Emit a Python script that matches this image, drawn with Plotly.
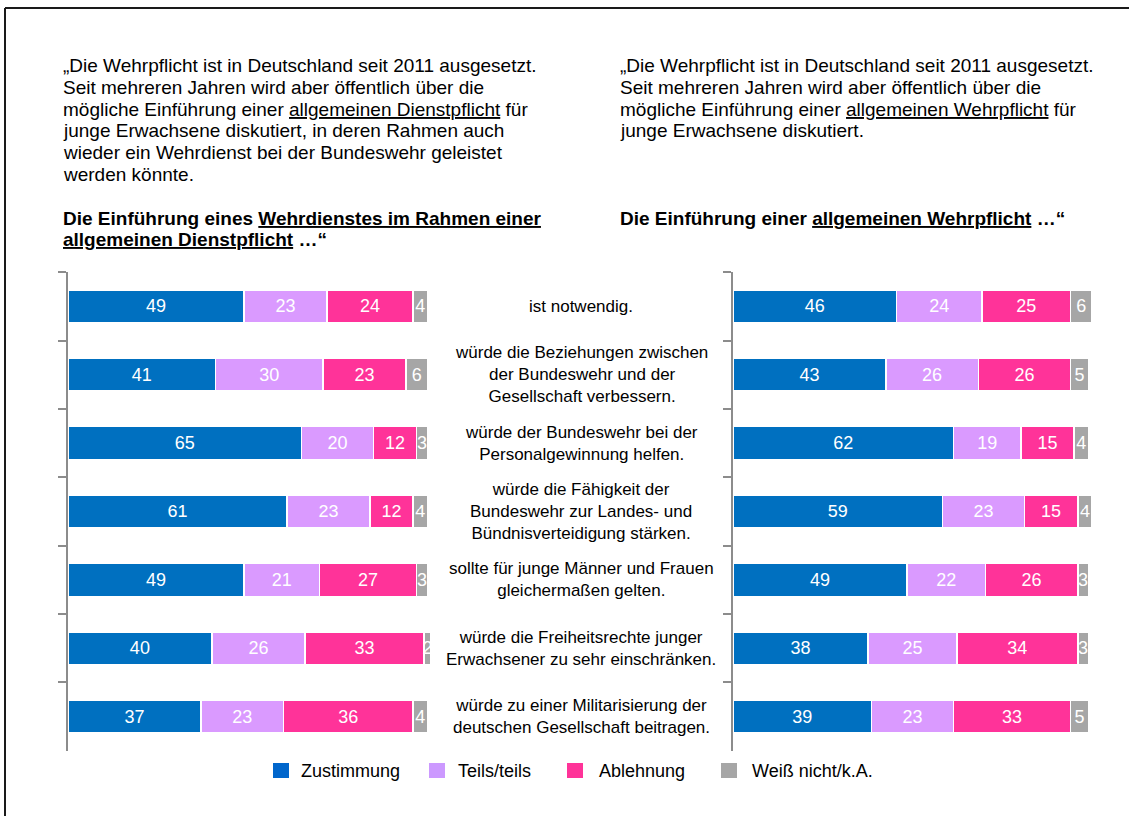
import plotly.graph_objects as go

# ---------------- data ----------------
statements = [
    "ist notwendig.",
    "würde die Beziehungen zwischen<br>der Bundeswehr und der<br>Gesellschaft verbessern.",
    "würde der Bundeswehr bei der<br>Personalgewinnung helfen.",
    "würde die Fähigkeit der<br>Bundeswehr zur Landes- und<br>Bündnisverteidigung stärken.",
    "sollte für junge Männer und Frauen<br>gleichermaßen gelten.",
    "würde die Freiheitsrechte junger<br>Erwachsener zu sehr einschränken.",
    "würde zu einer Militarisierung der<br>deutschen Gesellschaft beitragen.",
]
categories = ["S1", "S2", "S3", "S4", "S5", "S6", "S7"]
series_names = ["Zustimmung", "Teils/teils", "Ablehnung", "Weiß nicht/k.A."]

dienst_zustimmung = [49, 41, 65, 61, 49, 40, 37]
dienst_teils = [23, 30, 20, 23, 21, 26, 23]
dienst_ablehnung = [24, 23, 12, 12, 27, 33, 36]
dienst_weissnicht = [4, 6, 3, 4, 3, 2, 4]

wehr_zustimmung = [46, 43, 62, 59, 49, 38, 39]
wehr_teils = [24, 26, 19, 23, 22, 25, 23]
wehr_ablehnung = [25, 26, 15, 15, 26, 34, 33]
wehr_weissnicht = [6, 5, 4, 4, 3, 3, 5]

intro_left = [
    "„Die Wehrpflicht ist in Deutschland seit 2011 ausgesetzt.",
    "Seit mehreren Jahren wird aber öffentlich über die",
    "mögliche Einführung einer <u>allgemeinen Dienstpflicht</u> für",
    "junge Erwachsene diskutiert, in deren Rahmen auch",
    "wieder ein Wehrdienst bei der Bundeswehr geleistet",
    "werden könnte.",
]
intro_right = [
    "„Die Wehrpflicht ist in Deutschland seit 2011 ausgesetzt.",
    "Seit mehreren Jahren wird aber öffentlich über die",
    "mögliche Einführung einer <u>allgemeinen Wehrpflicht</u> für",
    "junge Erwachsene diskutiert.",
]
header_left = [
    "<b>Die Einführung eines <u>Wehrdienstes im Rahmen einer</u></b>",
    "<b><u>allgemeinen Dienstpflicht</u> …“</b>",
]
header_right = [
    "<b>Die Einführung einer <u>allgemeinen Wehrpflicht</u> …“</b>",
]

bar_colors = ["#0070C0", "#DA9AFF", "#FF3399", "#A6A6A6"]
legend_colors = ["#0066CC", "#CC99FF", "#FF3399", "#A6A6A6"]

# ---------------- layout helpers ----------------
W, H = 1129, 816
FONT = "Liberation Sans, Arial, sans-serif"


def px(x):
    return x / W


def py(y):
    return 1 - y / H


left_data = [dienst_zustimmung, dienst_teils, dienst_ablehnung, dienst_weissnicht]
right_data = [wehr_zustimmung, wehr_teils, wehr_ablehnung, wehr_weissnicht]

fig = go.Figure()
for xa, ya, dataset in (("x", "y", left_data), ("x2", "y2", right_data)):
    for name, color, vals in zip(series_names, bar_colors, dataset):
        fig.add_trace(go.Bar(
            x=vals, y=categories, orientation="h", name=name,
            marker=dict(color=color, line=dict(color="white", width=1.5)),
            texttemplate="%{x}", textposition="inside", insidetextanchor="middle",
            constraintext="none",
            textfont=dict(color="white", size=18, family=FONT),
            xaxis=xa, yaxis=ya, showlegend=False, hoverinfo="skip",
        ))

ydom = [py(750.7), py(272.3)]
yax = dict(
    type="category", domain=ydom, autorange="reversed", showticklabels=False,
    ticks="outside", tickson="boundaries", ticklen=8, tickwidth=1.5,
    tickcolor="#8C8C8C", showline=True, linecolor="#8C8C8C", linewidth=1.5,
    showgrid=False, zeroline=False, fixedrange=True,
)

annotations = []
LINE_Y0, LINE_STEP = 65.5, 21.8
# intro paragraphs
for i, line in enumerate(intro_left):
    annotations.append(dict(text=line, x=px(61), y=py(LINE_Y0 + LINE_STEP * i),
                            xanchor="left", yanchor="middle"))
for i, line in enumerate(intro_right):
    annotations.append(dict(text=line, x=px(618), y=py(LINE_Y0 + LINE_STEP * i),
                            xanchor="left", yanchor="middle"))
for i, line in enumerate(header_left):
    annotations.append(dict(text=line, x=px(61), y=py(219 + 20.5 * i),
                            xanchor="left", yanchor="middle"))
for i, line in enumerate(header_right):
    annotations.append(dict(text=line, x=px(618), y=py(219 + 20.5 * i),
                            xanchor="left", yanchor="middle"))
for a in annotations:
    a.update(xref="paper", yref="paper", showarrow=False, align="left",
             font=dict(family=FONT, size=19, color="#000000"))

# middle statements
for i, s in enumerate(statements):
    annotations.append(dict(
        text=s, x=px(581), y=i, xref="paper", yref="y", showarrow=False,
        xanchor="center", yanchor="middle", align="center",
        font=dict(family=FONT, size=17, color="#000000"),
    ))

# legend (manual)
legend_sq_x = [273, 429, 567, 721]
legend_txt_x = [299, 456, 597, 750]
shapes = []
for name, color, sx, tx in zip(series_names, legend_colors, legend_sq_x, legend_txt_x):
    shapes.append(dict(type="rect", xref="paper", yref="paper",
                       x0=px(sx), x1=px(sx + 16), y0=py(778), y1=py(763),
                       fillcolor=color, line=dict(width=0)))
    annotations.append(dict(text=name, x=px(tx), y=py(771), xref="paper", yref="paper",
                            showarrow=False, xanchor="left", yanchor="middle",
                            font=dict(family=FONT, size=18, color="#000000")))

# outer frame (top and left edges visible)
shapes.append(dict(type="line", xref="paper", yref="paper",
                   x0=px(5), x1=1.01, y0=py(8), y1=py(8),
                   line=dict(color="#1A1A1A", width=2)))
shapes.append(dict(type="line", xref="paper", yref="paper",
                   x0=px(5), x1=px(5), y0=py(8), y1=-0.01,
                   line=dict(color="#1A1A1A", width=2)))

fig.update_layout(
    width=W, height=H, margin=dict(l=0, r=0, t=0, b=0),
    paper_bgcolor="white", plot_bgcolor="white",
    barmode="stack", bargap=0.52, showlegend=False,
    uniformtext=dict(mode="show", minsize=18),
    xaxis=dict(domain=[px(68), px(431)], range=[0, 101], visible=False,
               fixedrange=True, anchor="y"),
    xaxis2=dict(domain=[px(733), px(1092)], range=[0, 101], visible=False,
                fixedrange=True, anchor="y2"),
    yaxis=dict(anchor="x", **yax),
    yaxis2=dict(anchor="x2", **yax),
    annotations=annotations, shapes=shapes,
)

fig.write_html(
    "out.html",
    config={"displayModeBar": False},
    post_script="document.body.style.margin='0';document.body.style.overflow='hidden';",
)
